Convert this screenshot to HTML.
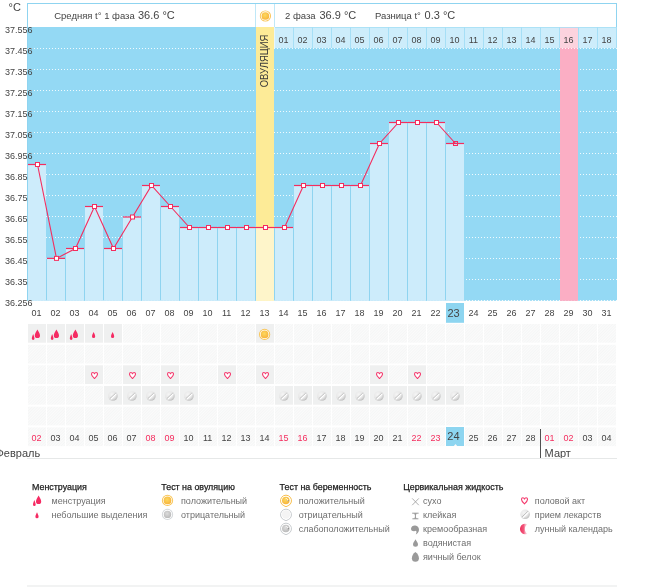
<!DOCTYPE html>
<html lang="ru"><head><meta charset="utf-8"><title>График базальной температуры</title>
<style>
html,body{margin:0;padding:0;background:#fff;}
body{width:655px;height:587px;overflow:hidden;font-family:"Liberation Sans", sans-serif;}
svg{display:block;}
text{font-family:"Liberation Sans", sans-serif;}
.ax{font-size:9px;fill:#444;}
.hd{font-size:9.5px;fill:#444;}
.hv{font-size:11px;fill:#444;}
.lg{font-size:9px;fill:#6e6e6e;}
.lh{font-size:8.9px;fill:#222;stroke:#222;stroke-width:0.25px;}
.red{fill:#f42d5e;}
</style></head><body>
<svg width="655" height="587" viewBox="0 0 655 587">
<defs>
<pattern id="hatch" width="2" height="2" patternUnits="userSpaceOnUse" patternTransform="rotate(45)"><rect width="2" height="2" fill="#fbfbfb"/><rect width="1" height="2" fill="#f5f6f6"/></pattern>
<radialGradient id="gOr" cx="0.45" cy="0.4" r="0.7"><stop offset="0" stop-color="#fcd85f"/><stop offset="1" stop-color="#f7ae35"/></radialGradient>
<radialGradient id="gGr" cx="0.45" cy="0.4" r="0.7"><stop offset="0" stop-color="#dcdcdc"/><stop offset="1" stop-color="#b4b4b4"/></radialGradient>
<radialGradient id="gPill" cx="0.38" cy="0.34" r="0.72"><stop offset="0" stop-color="#f5f5f5"/><stop offset="0.6" stop-color="#e6e6e6"/><stop offset="1" stop-color="#b9b9b9"/></radialGradient>
<linearGradient id="gMoon" x1="0" y1="0" x2="1" y2="0"><stop offset="0" stop-color="#ee2f5b"/><stop offset="0.5" stop-color="#f2577c"/><stop offset="1" stop-color="#f9b8c8" stop-opacity="0.3"/></linearGradient>
<g id="drop2"><path d="M0,-5 C1,-3 2.6,-1.2 2.6,1 A2.6,2.6 0 0 1 -2.6,1 C-2.6,-1.2 -1,-3 0,-5Z" fill="#f52b63"/><path d="M-4.25,-0.5 C-3.8,1 -2.9,2.4 -2.9,4.2 A1.35,1.4 0 0 1 -5.6,4.2 C-5.6,2.4 -4.7,1 -4.25,-0.5Z" fill="#f52b63"/></g>
<g id="drop1"><path d="M0,-3.2 C0.5,-1.8 1.6,-0.4 1.6,1.2 A1.6,1.6 0 0 1 -1.6,1.2 C-1.6,-0.4 -0.5,-1.8 0,-3.2Z" fill="#f52b63"/></g>
<g id="ovpos"><circle r="5.6" fill="#f9c453"/><circle r="4.65" fill="#fff"/><circle r="3.85" fill="url(#gOr)"/></g>
<g id="ovneg"><circle r="5.6" fill="#d3d7da"/><circle r="4.65" fill="#fff"/><circle r="3.7" fill="url(#gGr)"/></g>
<g id="heart"><path d="M0,3 C-1.4,1.7 -3,0.3 -3,-1.3 C-3,-2.4 -2.3,-3 -1.6,-3 C-0.8,-3 -0.3,-2.5 0,-1.7 C0.3,-2.5 0.8,-3 1.6,-3 C2.3,-3 3,-2.4 3,-1.3 C3,0.3 1.4,1.7 0,3Z" fill="#fff" stroke="#f4386c" stroke-width="1.1" stroke-linejoin="round"/></g>
<g id="pill"><circle r="4.8" fill="url(#gPill)"/><path d="M-2.6,2.3 L2.5,-2.5" stroke="#a2a2a2" stroke-width="0.75" stroke-linecap="round"/><path d="M-1.9,3 L3.1,-1.8" stroke="#fff" stroke-width="1.15" stroke-linecap="round"/></g>
</defs>

<rect width="655" height="587" fill="#fff"/>
<rect x="27.5" y="3.5" width="589" height="24" fill="#fff" stroke="#8fd4f0" stroke-width="1"/>
<rect x="27" y="27" width="590" height="273.8" fill="#94d9f4"/>
<rect x="256" y="27" width="18" height="273.8" fill="#fdeb97"/>
<rect x="255" y="4" width="1" height="23" fill="#bfe8f8"/><rect x="274" y="4" width="1" height="23" fill="#bfe8f8"/>
<rect x="560" y="27" width="18" height="273.8" fill="#fbaec4"/>
<rect x="274" y="27" width="343" height="21" fill="#a6dff6"/><rect x="274" y="27" width="1" height="21" fill="#e6f6fd"/>
<rect x="275" y="27.8" width="18" height="20.2" fill="#cdedfb"/>
<text class="ax" x="283.4" y="42.5" text-anchor="middle">01</text>
<rect x="294" y="27.8" width="18" height="20.2" fill="#cdedfb"/>
<text class="ax" x="302.4" y="42.5" text-anchor="middle">02</text>
<rect x="313" y="27.8" width="18" height="20.2" fill="#cdedfb"/>
<text class="ax" x="321.4" y="42.5" text-anchor="middle">03</text>
<rect x="332" y="27.8" width="18" height="20.2" fill="#cdedfb"/>
<text class="ax" x="340.4" y="42.5" text-anchor="middle">04</text>
<rect x="351" y="27.8" width="18" height="20.2" fill="#cdedfb"/>
<text class="ax" x="359.4" y="42.5" text-anchor="middle">05</text>
<rect x="370" y="27.8" width="18" height="20.2" fill="#cdedfb"/>
<text class="ax" x="378.4" y="42.5" text-anchor="middle">06</text>
<rect x="389" y="27.8" width="18" height="20.2" fill="#cdedfb"/>
<text class="ax" x="397.4" y="42.5" text-anchor="middle">07</text>
<rect x="408" y="27.8" width="18" height="20.2" fill="#cdedfb"/>
<text class="ax" x="416.4" y="42.5" text-anchor="middle">08</text>
<rect x="427" y="27.8" width="18" height="20.2" fill="#cdedfb"/>
<text class="ax" x="435.4" y="42.5" text-anchor="middle">09</text>
<rect x="446" y="27.8" width="18" height="20.2" fill="#cdedfb"/>
<text class="ax" x="454.4" y="42.5" text-anchor="middle">10</text>
<rect x="465" y="27.8" width="18" height="20.2" fill="#cdedfb"/>
<text class="ax" x="473.4" y="42.5" text-anchor="middle">11</text>
<rect x="484" y="27.8" width="18" height="20.2" fill="#cdedfb"/>
<text class="ax" x="492.4" y="42.5" text-anchor="middle">12</text>
<rect x="503" y="27.8" width="18" height="20.2" fill="#cdedfb"/>
<text class="ax" x="511.4" y="42.5" text-anchor="middle">13</text>
<rect x="522" y="27.8" width="18" height="20.2" fill="#cdedfb"/>
<text class="ax" x="530.4" y="42.5" text-anchor="middle">14</text>
<rect x="541" y="27.8" width="18" height="20.2" fill="#cdedfb"/>
<text class="ax" x="549.4" y="42.5" text-anchor="middle">15</text>
<rect x="560" y="27.8" width="18" height="20.2" fill="#fcd3de"/>
<text class="ax" x="568.4" y="42.5" text-anchor="middle">16</text>
<rect x="579" y="27.8" width="18" height="20.2" fill="#cdedfb"/>
<text class="ax" x="587.4" y="42.5" text-anchor="middle">17</text>
<rect x="598" y="27.8" width="18" height="20.2" fill="#cdedfb"/>
<text class="ax" x="606.4" y="42.5" text-anchor="middle">18</text>
<line x1="28" x2="617" y1="48.5" y2="48.5" stroke="#fff" stroke-opacity="0.85" stroke-width="1" stroke-dasharray="1 2"/>
<line x1="28" x2="617" y1="69.5" y2="69.5" stroke="#fff" stroke-opacity="0.85" stroke-width="1" stroke-dasharray="1 2"/>
<line x1="28" x2="617" y1="90.5" y2="90.5" stroke="#fff" stroke-opacity="0.85" stroke-width="1" stroke-dasharray="1 2"/>
<line x1="28" x2="617" y1="111.5" y2="111.5" stroke="#fff" stroke-opacity="0.85" stroke-width="1" stroke-dasharray="1 2"/>
<line x1="28" x2="617" y1="132.5" y2="132.5" stroke="#fff" stroke-opacity="0.85" stroke-width="1" stroke-dasharray="1 2"/>
<line x1="28" x2="617" y1="153.5" y2="153.5" stroke="#fff" stroke-opacity="0.85" stroke-width="1" stroke-dasharray="1 2"/>
<line x1="28" x2="617" y1="174.5" y2="174.5" stroke="#fff" stroke-opacity="0.85" stroke-width="1" stroke-dasharray="1 2"/>
<line x1="28" x2="617" y1="195.5" y2="195.5" stroke="#fff" stroke-opacity="0.85" stroke-width="1" stroke-dasharray="1 2"/>
<line x1="28" x2="617" y1="216.5" y2="216.5" stroke="#fff" stroke-opacity="0.85" stroke-width="1" stroke-dasharray="1 2"/>
<line x1="28" x2="617" y1="237.5" y2="237.5" stroke="#fff" stroke-opacity="0.85" stroke-width="1" stroke-dasharray="1 2"/>
<line x1="28" x2="617" y1="258.5" y2="258.5" stroke="#fff" stroke-opacity="0.85" stroke-width="1" stroke-dasharray="1 2"/>
<line x1="28" x2="617" y1="279.5" y2="279.5" stroke="#fff" stroke-opacity="0.85" stroke-width="1" stroke-dasharray="1 2"/>
<line x1="28" x2="617" y1="300.5" y2="300.5" stroke="#fff" stroke-opacity="0.85" stroke-width="1" stroke-dasharray="1 2"/>
<rect x="256" y="48" width="18" height="252.8" fill="#fdeb97"/>
<rect x="560" y="49" width="18" height="251.8" fill="#fbaec4"/>
<rect x="28" y="164.5" width="18" height="136.4" fill="#cdecfb"/>
<rect x="46" y="258.4" width="1" height="42.1" fill="#8fd4f0"/>
<rect x="47" y="258.4" width="18" height="42.5" fill="#cdecfb"/>
<rect x="65" y="258.4" width="1" height="42.1" fill="#8fd4f0"/>
<rect x="66" y="248.5" width="18" height="52.4" fill="#cdecfb"/>
<rect x="84" y="248.5" width="1" height="52.0" fill="#8fd4f0"/>
<rect x="85" y="206.5" width="18" height="94.4" fill="#cdecfb"/>
<rect x="103" y="248.5" width="1" height="52.0" fill="#8fd4f0"/>
<rect x="104" y="248.5" width="18" height="52.4" fill="#cdecfb"/>
<rect x="122" y="248.5" width="1" height="52.0" fill="#8fd4f0"/>
<rect x="123" y="217.0" width="18" height="83.9" fill="#cdecfb"/>
<rect x="141" y="217.0" width="1" height="83.5" fill="#8fd4f0"/>
<rect x="142" y="185.5" width="18" height="115.4" fill="#cdecfb"/>
<rect x="160" y="206.5" width="1" height="94.0" fill="#8fd4f0"/>
<rect x="161" y="206.5" width="18" height="94.4" fill="#cdecfb"/>
<rect x="179" y="227.5" width="1" height="73.0" fill="#8fd4f0"/>
<rect x="180" y="227.5" width="18" height="73.4" fill="#cdecfb"/>
<rect x="198" y="227.5" width="1" height="73.0" fill="#8fd4f0"/>
<rect x="199" y="227.5" width="18" height="73.4" fill="#cdecfb"/>
<rect x="217" y="227.5" width="1" height="73.0" fill="#8fd4f0"/>
<rect x="218" y="227.5" width="18" height="73.4" fill="#cdecfb"/>
<rect x="236" y="227.5" width="1" height="73.0" fill="#8fd4f0"/>
<rect x="237" y="227.5" width="18" height="73.4" fill="#cdecfb"/>
<rect x="255" y="227.5" width="1" height="73.0" fill="#8fd4f0"/>
<rect x="256" y="227.5" width="18" height="73.4" fill="#fef5ca"/>
<rect x="274" y="227.5" width="1" height="73.0" fill="#8fd4f0"/>
<rect x="275" y="227.5" width="18" height="73.4" fill="#cdecfb"/>
<rect x="293" y="227.5" width="1" height="73.0" fill="#8fd4f0"/>
<rect x="294" y="185.5" width="18" height="115.4" fill="#cdecfb"/>
<rect x="312" y="185.5" width="1" height="115.0" fill="#8fd4f0"/>
<rect x="313" y="185.5" width="18" height="115.4" fill="#cdecfb"/>
<rect x="331" y="185.5" width="1" height="115.0" fill="#8fd4f0"/>
<rect x="332" y="185.5" width="18" height="115.4" fill="#cdecfb"/>
<rect x="350" y="185.5" width="1" height="115.0" fill="#8fd4f0"/>
<rect x="351" y="185.5" width="18" height="115.4" fill="#cdecfb"/>
<rect x="369" y="185.5" width="1" height="115.0" fill="#8fd4f0"/>
<rect x="370" y="143.5" width="18" height="157.4" fill="#cdecfb"/>
<rect x="388" y="143.5" width="1" height="157.0" fill="#8fd4f0"/>
<rect x="389" y="122.5" width="18" height="178.4" fill="#cdecfb"/>
<rect x="407" y="122.5" width="1" height="178.0" fill="#8fd4f0"/>
<rect x="408" y="122.5" width="18" height="178.4" fill="#cdecfb"/>
<rect x="426" y="122.5" width="1" height="178.0" fill="#8fd4f0"/>
<rect x="427" y="122.5" width="18" height="178.4" fill="#cdecfb"/>
<rect x="445" y="143.5" width="1" height="157.0" fill="#8fd4f0"/>
<rect x="446" y="143.5" width="18" height="157.4" fill="#cdecfb"/>
<line x1="28" x2="46" y1="164.5" y2="164.5" stroke="#f42d5e" stroke-width="1.2"/>
<line x1="47" x2="65" y1="258.3699999999991" y2="258.3699999999991" stroke="#f42d5e" stroke-width="1.2"/>
<line x1="66" x2="84" y1="248.49999999999972" y2="248.49999999999972" stroke="#f42d5e" stroke-width="1.2"/>
<line x1="85" x2="103" y1="206.4999999999991" y2="206.4999999999991" stroke="#f42d5e" stroke-width="1.2"/>
<line x1="104" x2="122" y1="248.49999999999972" y2="248.49999999999972" stroke="#f42d5e" stroke-width="1.2"/>
<line x1="123" x2="141" y1="217.0" y2="217.0" stroke="#f42d5e" stroke-width="1.2"/>
<line x1="142" x2="160" y1="185.50000000000028" y2="185.50000000000028" stroke="#f42d5e" stroke-width="1.2"/>
<line x1="161" x2="179" y1="206.4999999999991" y2="206.4999999999991" stroke="#f42d5e" stroke-width="1.2"/>
<line x1="180" x2="198" y1="227.4999999999994" y2="227.4999999999994" stroke="#f42d5e" stroke-width="1.2"/>
<line x1="199" x2="217" y1="227.4999999999994" y2="227.4999999999994" stroke="#f42d5e" stroke-width="1.2"/>
<line x1="218" x2="236" y1="227.4999999999994" y2="227.4999999999994" stroke="#f42d5e" stroke-width="1.2"/>
<line x1="237" x2="255" y1="227.4999999999994" y2="227.4999999999994" stroke="#f42d5e" stroke-width="1.2"/>
<line x1="256" x2="274" y1="227.4999999999994" y2="227.4999999999994" stroke="#f42d5e" stroke-width="1.2"/>
<line x1="275" x2="293" y1="227.4999999999994" y2="227.4999999999994" stroke="#f42d5e" stroke-width="1.2"/>
<line x1="294" x2="312" y1="185.50000000000028" y2="185.50000000000028" stroke="#f42d5e" stroke-width="1.2"/>
<line x1="313" x2="331" y1="185.50000000000028" y2="185.50000000000028" stroke="#f42d5e" stroke-width="1.2"/>
<line x1="332" x2="350" y1="185.50000000000028" y2="185.50000000000028" stroke="#f42d5e" stroke-width="1.2"/>
<line x1="351" x2="369" y1="185.50000000000028" y2="185.50000000000028" stroke="#f42d5e" stroke-width="1.2"/>
<line x1="370" x2="388" y1="143.49999999999972" y2="143.49999999999972" stroke="#f42d5e" stroke-width="1.2"/>
<line x1="389" x2="407" y1="122.4999999999994" y2="122.4999999999994" stroke="#f42d5e" stroke-width="1.2"/>
<line x1="408" x2="426" y1="122.4999999999994" y2="122.4999999999994" stroke="#f42d5e" stroke-width="1.2"/>
<line x1="427" x2="445" y1="122.4999999999994" y2="122.4999999999994" stroke="#f42d5e" stroke-width="1.2"/>
<line x1="446" x2="464" y1="143.49999999999972" y2="143.49999999999972" stroke="#f42d5e" stroke-width="1.2"/>
<polyline fill="none" stroke="#f42d5e" stroke-width="1.1" points="37.5,164.5 56.5,258.4 75.5,248.5 94.5,206.5 113.5,248.5 132.5,217.0 151.5,185.5 170.5,206.5 189.5,227.5 208.5,227.5 227.5,227.5 246.5,227.5 265.5,227.5 284.5,227.5 303.5,185.5 322.5,185.5 341.5,185.5 360.5,185.5 379.5,143.5 398.5,122.5 417.5,122.5 436.5,122.5 455.5,143.5"/>
<rect x="35.5" y="162.5" width="4" height="4" fill="#fff" stroke="#f42d5e" stroke-width="1"/>
<rect x="54.5" y="256.3699999999991" width="4" height="4" fill="#fff" stroke="#f42d5e" stroke-width="1"/>
<rect x="73.5" y="246.49999999999972" width="4" height="4" fill="#fff" stroke="#f42d5e" stroke-width="1"/>
<rect x="92.5" y="204.4999999999991" width="4" height="4" fill="#fff" stroke="#f42d5e" stroke-width="1"/>
<rect x="111.5" y="246.49999999999972" width="4" height="4" fill="#fff" stroke="#f42d5e" stroke-width="1"/>
<rect x="130.5" y="215.0" width="4" height="4" fill="#fff" stroke="#f42d5e" stroke-width="1"/>
<rect x="149.5" y="183.50000000000028" width="4" height="4" fill="#fff" stroke="#f42d5e" stroke-width="1"/>
<rect x="168.5" y="204.4999999999991" width="4" height="4" fill="#fff" stroke="#f42d5e" stroke-width="1"/>
<rect x="187.5" y="225.4999999999994" width="4" height="4" fill="#fff" stroke="#f42d5e" stroke-width="1"/>
<rect x="206.5" y="225.4999999999994" width="4" height="4" fill="#fff" stroke="#f42d5e" stroke-width="1"/>
<rect x="225.5" y="225.4999999999994" width="4" height="4" fill="#fff" stroke="#f42d5e" stroke-width="1"/>
<rect x="244.5" y="225.4999999999994" width="4" height="4" fill="#fff" stroke="#f42d5e" stroke-width="1"/>
<rect x="263.5" y="225.4999999999994" width="4" height="4" fill="#fff" stroke="#f42d5e" stroke-width="1"/>
<rect x="282.5" y="225.4999999999994" width="4" height="4" fill="#fff" stroke="#f42d5e" stroke-width="1"/>
<rect x="301.5" y="183.50000000000028" width="4" height="4" fill="#fff" stroke="#f42d5e" stroke-width="1"/>
<rect x="320.5" y="183.50000000000028" width="4" height="4" fill="#fff" stroke="#f42d5e" stroke-width="1"/>
<rect x="339.5" y="183.50000000000028" width="4" height="4" fill="#fff" stroke="#f42d5e" stroke-width="1"/>
<rect x="358.5" y="183.50000000000028" width="4" height="4" fill="#fff" stroke="#f42d5e" stroke-width="1"/>
<rect x="377.5" y="141.49999999999972" width="4" height="4" fill="#fff" stroke="#f42d5e" stroke-width="1"/>
<rect x="396.5" y="120.4999999999994" width="4" height="4" fill="#fff" stroke="#f42d5e" stroke-width="1"/>
<rect x="415.5" y="120.4999999999994" width="4" height="4" fill="#fff" stroke="#f42d5e" stroke-width="1"/>
<rect x="434.5" y="120.4999999999994" width="4" height="4" fill="#fff" stroke="#f42d5e" stroke-width="1"/>
<rect x="453.5" y="141.49999999999972" width="4" height="4" fill="none" stroke="#f42d5e" stroke-width="1"/>
<rect x="27" y="27" width="1" height="273.8" fill="#8fd4f0"/>
<text class="hv" x="8.6" y="10.8" style="font-size:11px">°C</text>
<text class="ax" x="5" y="33.0">37.556</text>
<text class="ax" x="5" y="54.0">37.456</text>
<text class="ax" x="5" y="75.0">37.356</text>
<text class="ax" x="5" y="96.0">37.256</text>
<text class="ax" x="5" y="117.0">37.156</text>
<text class="ax" x="5" y="138.0">37.056</text>
<text class="ax" x="5" y="159.0">36.956</text>
<text class="ax" x="5" y="180.0">36.85</text>
<text class="ax" x="5" y="201.0">36.75</text>
<text class="ax" x="5" y="222.0">36.65</text>
<text class="ax" x="5" y="243.0">36.55</text>
<text class="ax" x="5" y="264.0">36.45</text>
<text class="ax" x="5" y="285.0">36.35</text>
<text class="ax" x="5" y="306.0">36.256</text>
<text class="hd" x="54.2" y="19">Средняя t° 1 фаза</text><text class="hv" x="138" y="19.2">36.6 °C</text>
<use href="#ovpos" x="265.4" y="16"/>
<text class="hd" x="285" y="19">2 фаза</text><text class="hv" x="319.5" y="19.2">36.9 °C</text>
<text class="hd" x="375" y="19">Разница t°</text><text class="hv" x="424.6" y="19.2">0.3 °C</text>
<text transform="translate(268.3,87.2) rotate(-90)" style="font-size:10.6px;fill:#3a3a3a" textLength="52.4" lengthAdjust="spacingAndGlyphs">ОВУЛЯЦИЯ</text>
<rect x="446" y="303" width="18" height="19.8" fill="#8dd5f0"/>
<text class="ax" x="36.6" y="315.6" text-anchor="middle">01</text>
<text class="ax" x="55.6" y="315.6" text-anchor="middle">02</text>
<text class="ax" x="74.6" y="315.6" text-anchor="middle">03</text>
<text class="ax" x="93.6" y="315.6" text-anchor="middle">04</text>
<text class="ax" x="112.6" y="315.6" text-anchor="middle">05</text>
<text class="ax" x="131.6" y="315.6" text-anchor="middle">06</text>
<text class="ax" x="150.6" y="315.6" text-anchor="middle">07</text>
<text class="ax" x="169.6" y="315.6" text-anchor="middle">08</text>
<text class="ax" x="188.6" y="315.6" text-anchor="middle">09</text>
<text class="ax" x="207.6" y="315.6" text-anchor="middle">10</text>
<text class="ax" x="226.6" y="315.6" text-anchor="middle">11</text>
<text class="ax" x="245.6" y="315.6" text-anchor="middle">12</text>
<text class="ax" x="264.6" y="315.6" text-anchor="middle">13</text>
<text class="ax" x="283.6" y="315.6" text-anchor="middle">14</text>
<text class="ax" x="302.6" y="315.6" text-anchor="middle">15</text>
<text class="ax" x="321.6" y="315.6" text-anchor="middle">16</text>
<text class="ax" x="340.6" y="315.6" text-anchor="middle">17</text>
<text class="ax" x="359.6" y="315.6" text-anchor="middle">18</text>
<text class="ax" x="378.6" y="315.6" text-anchor="middle">19</text>
<text class="ax" x="397.6" y="315.6" text-anchor="middle">20</text>
<text class="ax" x="416.6" y="315.6" text-anchor="middle">21</text>
<text class="ax" x="435.6" y="315.6" text-anchor="middle">22</text>
<text x="453.6" y="316.9" text-anchor="middle" style="font-size:11px;fill:#444">23</text>
<text class="ax" x="473.6" y="315.6" text-anchor="middle">24</text>
<text class="ax" x="492.6" y="315.6" text-anchor="middle">25</text>
<text class="ax" x="511.6" y="315.6" text-anchor="middle">26</text>
<text class="ax" x="530.6" y="315.6" text-anchor="middle">27</text>
<text class="ax" x="549.6" y="315.6" text-anchor="middle">28</text>
<text class="ax" x="568.6" y="315.6" text-anchor="middle">29</text>
<text class="ax" x="587.6" y="315.6" text-anchor="middle">30</text>
<text class="ax" x="606.6" y="315.6" text-anchor="middle">31</text>
<rect x="28" y="324" width="18" height="18.7" fill="#eff0f0"/>
<use href="#drop2" x="37.4" y="334.4"/>
<rect x="47" y="324" width="18" height="18.7" fill="#eff0f0"/>
<use href="#drop2" x="56.4" y="334.4"/>
<rect x="66" y="324" width="18" height="18.7" fill="#eff0f0"/>
<use href="#drop2" x="75.4" y="334.4"/>
<rect x="85" y="324" width="18" height="18.7" fill="#eff0f0"/>
<use href="#drop1" x="93.6" y="335.2"/>
<rect x="104" y="324" width="18" height="18.7" fill="#eff0f0"/>
<use href="#drop1" x="112.6" y="335.2"/>
<rect x="123" y="324" width="18" height="18.7" fill="url(#hatch)"/>
<rect x="142" y="324" width="18" height="18.7" fill="url(#hatch)"/>
<rect x="161" y="324" width="18" height="18.7" fill="url(#hatch)"/>
<rect x="180" y="324" width="18" height="18.7" fill="url(#hatch)"/>
<rect x="199" y="324" width="18" height="18.7" fill="url(#hatch)"/>
<rect x="218" y="324" width="18" height="18.7" fill="url(#hatch)"/>
<rect x="237" y="324" width="18" height="18.7" fill="url(#hatch)"/>
<rect x="256" y="324" width="18" height="18.7" fill="#eff0f0"/>
<use href="#ovpos" x="264.6" y="334.4"/>
<rect x="275" y="324" width="18" height="18.7" fill="url(#hatch)"/>
<rect x="294" y="324" width="18" height="18.7" fill="url(#hatch)"/>
<rect x="313" y="324" width="18" height="18.7" fill="url(#hatch)"/>
<rect x="332" y="324" width="18" height="18.7" fill="url(#hatch)"/>
<rect x="351" y="324" width="18" height="18.7" fill="url(#hatch)"/>
<rect x="370" y="324" width="18" height="18.7" fill="url(#hatch)"/>
<rect x="389" y="324" width="18" height="18.7" fill="url(#hatch)"/>
<rect x="408" y="324" width="18" height="18.7" fill="url(#hatch)"/>
<rect x="427" y="324" width="18" height="18.7" fill="url(#hatch)"/>
<rect x="446" y="324" width="18" height="18.7" fill="url(#hatch)"/>
<rect x="465" y="324" width="18" height="18.7" fill="url(#hatch)"/>
<rect x="484" y="324" width="18" height="18.7" fill="url(#hatch)"/>
<rect x="503" y="324" width="18" height="18.7" fill="url(#hatch)"/>
<rect x="522" y="324" width="18" height="18.7" fill="url(#hatch)"/>
<rect x="541" y="324" width="18" height="18.7" fill="url(#hatch)"/>
<rect x="560" y="324" width="18" height="18.7" fill="url(#hatch)"/>
<rect x="579" y="324" width="18" height="18.7" fill="url(#hatch)"/>
<rect x="598" y="324" width="18" height="18.7" fill="url(#hatch)"/>
<rect x="28" y="344.8" width="18" height="18.7" fill="url(#hatch)"/>
<rect x="47" y="344.8" width="18" height="18.7" fill="url(#hatch)"/>
<rect x="66" y="344.8" width="18" height="18.7" fill="url(#hatch)"/>
<rect x="85" y="344.8" width="18" height="18.7" fill="url(#hatch)"/>
<rect x="104" y="344.8" width="18" height="18.7" fill="url(#hatch)"/>
<rect x="123" y="344.8" width="18" height="18.7" fill="url(#hatch)"/>
<rect x="142" y="344.8" width="18" height="18.7" fill="url(#hatch)"/>
<rect x="161" y="344.8" width="18" height="18.7" fill="url(#hatch)"/>
<rect x="180" y="344.8" width="18" height="18.7" fill="url(#hatch)"/>
<rect x="199" y="344.8" width="18" height="18.7" fill="url(#hatch)"/>
<rect x="218" y="344.8" width="18" height="18.7" fill="url(#hatch)"/>
<rect x="237" y="344.8" width="18" height="18.7" fill="url(#hatch)"/>
<rect x="256" y="344.8" width="18" height="18.7" fill="url(#hatch)"/>
<rect x="275" y="344.8" width="18" height="18.7" fill="url(#hatch)"/>
<rect x="294" y="344.8" width="18" height="18.7" fill="url(#hatch)"/>
<rect x="313" y="344.8" width="18" height="18.7" fill="url(#hatch)"/>
<rect x="332" y="344.8" width="18" height="18.7" fill="url(#hatch)"/>
<rect x="351" y="344.8" width="18" height="18.7" fill="url(#hatch)"/>
<rect x="370" y="344.8" width="18" height="18.7" fill="url(#hatch)"/>
<rect x="389" y="344.8" width="18" height="18.7" fill="url(#hatch)"/>
<rect x="408" y="344.8" width="18" height="18.7" fill="url(#hatch)"/>
<rect x="427" y="344.8" width="18" height="18.7" fill="url(#hatch)"/>
<rect x="446" y="344.8" width="18" height="18.7" fill="url(#hatch)"/>
<rect x="465" y="344.8" width="18" height="18.7" fill="url(#hatch)"/>
<rect x="484" y="344.8" width="18" height="18.7" fill="url(#hatch)"/>
<rect x="503" y="344.8" width="18" height="18.7" fill="url(#hatch)"/>
<rect x="522" y="344.8" width="18" height="18.7" fill="url(#hatch)"/>
<rect x="541" y="344.8" width="18" height="18.7" fill="url(#hatch)"/>
<rect x="560" y="344.8" width="18" height="18.7" fill="url(#hatch)"/>
<rect x="579" y="344.8" width="18" height="18.7" fill="url(#hatch)"/>
<rect x="598" y="344.8" width="18" height="18.7" fill="url(#hatch)"/>
<rect x="28" y="365.3" width="18" height="18.7" fill="url(#hatch)"/>
<rect x="47" y="365.3" width="18" height="18.7" fill="url(#hatch)"/>
<rect x="66" y="365.3" width="18" height="18.7" fill="url(#hatch)"/>
<rect x="85" y="365.3" width="18" height="18.7" fill="#eff0f0"/>
<use href="#heart" x="94.5" y="375.5"/>
<rect x="104" y="365.3" width="18" height="18.7" fill="url(#hatch)"/>
<rect x="123" y="365.3" width="18" height="18.7" fill="#eff0f0"/>
<use href="#heart" x="132.5" y="375.5"/>
<rect x="142" y="365.3" width="18" height="18.7" fill="url(#hatch)"/>
<rect x="161" y="365.3" width="18" height="18.7" fill="#eff0f0"/>
<use href="#heart" x="170.5" y="375.5"/>
<rect x="180" y="365.3" width="18" height="18.7" fill="url(#hatch)"/>
<rect x="199" y="365.3" width="18" height="18.7" fill="url(#hatch)"/>
<rect x="218" y="365.3" width="18" height="18.7" fill="#eff0f0"/>
<use href="#heart" x="227.5" y="375.5"/>
<rect x="237" y="365.3" width="18" height="18.7" fill="url(#hatch)"/>
<rect x="256" y="365.3" width="18" height="18.7" fill="#eff0f0"/>
<use href="#heart" x="265.5" y="375.5"/>
<rect x="275" y="365.3" width="18" height="18.7" fill="url(#hatch)"/>
<rect x="294" y="365.3" width="18" height="18.7" fill="url(#hatch)"/>
<rect x="313" y="365.3" width="18" height="18.7" fill="url(#hatch)"/>
<rect x="332" y="365.3" width="18" height="18.7" fill="url(#hatch)"/>
<rect x="351" y="365.3" width="18" height="18.7" fill="url(#hatch)"/>
<rect x="370" y="365.3" width="18" height="18.7" fill="#eff0f0"/>
<use href="#heart" x="379.5" y="375.5"/>
<rect x="389" y="365.3" width="18" height="18.7" fill="url(#hatch)"/>
<rect x="408" y="365.3" width="18" height="18.7" fill="#eff0f0"/>
<use href="#heart" x="417.5" y="375.5"/>
<rect x="427" y="365.3" width="18" height="18.7" fill="url(#hatch)"/>
<rect x="446" y="365.3" width="18" height="18.7" fill="url(#hatch)"/>
<rect x="465" y="365.3" width="18" height="18.7" fill="url(#hatch)"/>
<rect x="484" y="365.3" width="18" height="18.7" fill="url(#hatch)"/>
<rect x="503" y="365.3" width="18" height="18.7" fill="url(#hatch)"/>
<rect x="522" y="365.3" width="18" height="18.7" fill="url(#hatch)"/>
<rect x="541" y="365.3" width="18" height="18.7" fill="url(#hatch)"/>
<rect x="560" y="365.3" width="18" height="18.7" fill="url(#hatch)"/>
<rect x="579" y="365.3" width="18" height="18.7" fill="url(#hatch)"/>
<rect x="598" y="365.3" width="18" height="18.7" fill="url(#hatch)"/>
<rect x="28" y="386" width="18" height="18.7" fill="url(#hatch)"/>
<rect x="47" y="386" width="18" height="18.7" fill="url(#hatch)"/>
<rect x="66" y="386" width="18" height="18.7" fill="url(#hatch)"/>
<rect x="85" y="386" width="18" height="18.7" fill="url(#hatch)"/>
<rect x="104" y="386" width="18" height="18.7" fill="#eff0f0"/>
<use href="#pill" x="112.9" y="396"/>
<rect x="123" y="386" width="18" height="18.7" fill="#eff0f0"/>
<use href="#pill" x="131.9" y="396"/>
<rect x="142" y="386" width="18" height="18.7" fill="#eff0f0"/>
<use href="#pill" x="150.9" y="396"/>
<rect x="161" y="386" width="18" height="18.7" fill="#eff0f0"/>
<use href="#pill" x="169.9" y="396"/>
<rect x="180" y="386" width="18" height="18.7" fill="#eff0f0"/>
<use href="#pill" x="188.9" y="396"/>
<rect x="199" y="386" width="18" height="18.7" fill="url(#hatch)"/>
<rect x="218" y="386" width="18" height="18.7" fill="url(#hatch)"/>
<rect x="237" y="386" width="18" height="18.7" fill="url(#hatch)"/>
<rect x="256" y="386" width="18" height="18.7" fill="url(#hatch)"/>
<rect x="275" y="386" width="18" height="18.7" fill="#eff0f0"/>
<use href="#pill" x="283.9" y="396"/>
<rect x="294" y="386" width="18" height="18.7" fill="#eff0f0"/>
<use href="#pill" x="302.9" y="396"/>
<rect x="313" y="386" width="18" height="18.7" fill="#eff0f0"/>
<use href="#pill" x="321.9" y="396"/>
<rect x="332" y="386" width="18" height="18.7" fill="#eff0f0"/>
<use href="#pill" x="340.9" y="396"/>
<rect x="351" y="386" width="18" height="18.7" fill="#eff0f0"/>
<use href="#pill" x="359.9" y="396"/>
<rect x="370" y="386" width="18" height="18.7" fill="#eff0f0"/>
<use href="#pill" x="378.9" y="396"/>
<rect x="389" y="386" width="18" height="18.7" fill="#eff0f0"/>
<use href="#pill" x="397.9" y="396"/>
<rect x="408" y="386" width="18" height="18.7" fill="#eff0f0"/>
<use href="#pill" x="416.9" y="396"/>
<rect x="427" y="386" width="18" height="18.7" fill="#eff0f0"/>
<use href="#pill" x="435.9" y="396"/>
<rect x="446" y="386" width="18" height="18.7" fill="#eff0f0"/>
<use href="#pill" x="454.9" y="396"/>
<rect x="465" y="386" width="18" height="18.7" fill="url(#hatch)"/>
<rect x="484" y="386" width="18" height="18.7" fill="url(#hatch)"/>
<rect x="503" y="386" width="18" height="18.7" fill="url(#hatch)"/>
<rect x="522" y="386" width="18" height="18.7" fill="url(#hatch)"/>
<rect x="541" y="386" width="18" height="18.7" fill="url(#hatch)"/>
<rect x="560" y="386" width="18" height="18.7" fill="url(#hatch)"/>
<rect x="579" y="386" width="18" height="18.7" fill="url(#hatch)"/>
<rect x="598" y="386" width="18" height="18.7" fill="url(#hatch)"/>
<rect x="28" y="406.7" width="18" height="18.7" fill="url(#hatch)"/>
<rect x="47" y="406.7" width="18" height="18.7" fill="url(#hatch)"/>
<rect x="66" y="406.7" width="18" height="18.7" fill="url(#hatch)"/>
<rect x="85" y="406.7" width="18" height="18.7" fill="url(#hatch)"/>
<rect x="104" y="406.7" width="18" height="18.7" fill="url(#hatch)"/>
<rect x="123" y="406.7" width="18" height="18.7" fill="url(#hatch)"/>
<rect x="142" y="406.7" width="18" height="18.7" fill="url(#hatch)"/>
<rect x="161" y="406.7" width="18" height="18.7" fill="url(#hatch)"/>
<rect x="180" y="406.7" width="18" height="18.7" fill="url(#hatch)"/>
<rect x="199" y="406.7" width="18" height="18.7" fill="url(#hatch)"/>
<rect x="218" y="406.7" width="18" height="18.7" fill="url(#hatch)"/>
<rect x="237" y="406.7" width="18" height="18.7" fill="url(#hatch)"/>
<rect x="256" y="406.7" width="18" height="18.7" fill="url(#hatch)"/>
<rect x="275" y="406.7" width="18" height="18.7" fill="url(#hatch)"/>
<rect x="294" y="406.7" width="18" height="18.7" fill="url(#hatch)"/>
<rect x="313" y="406.7" width="18" height="18.7" fill="url(#hatch)"/>
<rect x="332" y="406.7" width="18" height="18.7" fill="url(#hatch)"/>
<rect x="351" y="406.7" width="18" height="18.7" fill="url(#hatch)"/>
<rect x="370" y="406.7" width="18" height="18.7" fill="url(#hatch)"/>
<rect x="389" y="406.7" width="18" height="18.7" fill="url(#hatch)"/>
<rect x="408" y="406.7" width="18" height="18.7" fill="url(#hatch)"/>
<rect x="427" y="406.7" width="18" height="18.7" fill="url(#hatch)"/>
<rect x="446" y="406.7" width="18" height="18.7" fill="url(#hatch)"/>
<rect x="465" y="406.7" width="18" height="18.7" fill="url(#hatch)"/>
<rect x="484" y="406.7" width="18" height="18.7" fill="url(#hatch)"/>
<rect x="503" y="406.7" width="18" height="18.7" fill="url(#hatch)"/>
<rect x="522" y="406.7" width="18" height="18.7" fill="url(#hatch)"/>
<rect x="541" y="406.7" width="18" height="18.7" fill="url(#hatch)"/>
<rect x="560" y="406.7" width="18" height="18.7" fill="url(#hatch)"/>
<rect x="579" y="406.7" width="18" height="18.7" fill="url(#hatch)"/>
<rect x="598" y="406.7" width="18" height="18.7" fill="url(#hatch)"/>
<rect x="28" y="427.4" width="18" height="18.7" fill="url(#hatch)"/>
<rect x="47" y="427.4" width="18" height="18.7" fill="url(#hatch)"/>
<rect x="66" y="427.4" width="18" height="18.7" fill="url(#hatch)"/>
<rect x="85" y="427.4" width="18" height="18.7" fill="url(#hatch)"/>
<rect x="104" y="427.4" width="18" height="18.7" fill="url(#hatch)"/>
<rect x="123" y="427.4" width="18" height="18.7" fill="url(#hatch)"/>
<rect x="142" y="427.4" width="18" height="18.7" fill="url(#hatch)"/>
<rect x="161" y="427.4" width="18" height="18.7" fill="url(#hatch)"/>
<rect x="180" y="427.4" width="18" height="18.7" fill="url(#hatch)"/>
<rect x="199" y="427.4" width="18" height="18.7" fill="url(#hatch)"/>
<rect x="218" y="427.4" width="18" height="18.7" fill="url(#hatch)"/>
<rect x="237" y="427.4" width="18" height="18.7" fill="url(#hatch)"/>
<rect x="256" y="427.4" width="18" height="18.7" fill="url(#hatch)"/>
<rect x="275" y="427.4" width="18" height="18.7" fill="url(#hatch)"/>
<rect x="294" y="427.4" width="18" height="18.7" fill="url(#hatch)"/>
<rect x="313" y="427.4" width="18" height="18.7" fill="url(#hatch)"/>
<rect x="332" y="427.4" width="18" height="18.7" fill="url(#hatch)"/>
<rect x="351" y="427.4" width="18" height="18.7" fill="url(#hatch)"/>
<rect x="370" y="427.4" width="18" height="18.7" fill="url(#hatch)"/>
<rect x="389" y="427.4" width="18" height="18.7" fill="url(#hatch)"/>
<rect x="408" y="427.4" width="18" height="18.7" fill="url(#hatch)"/>
<rect x="427" y="427.4" width="18" height="18.7" fill="url(#hatch)"/>
<rect x="446" y="427.4" width="18" height="18.7" fill="url(#hatch)"/>
<rect x="465" y="427.4" width="18" height="18.7" fill="url(#hatch)"/>
<rect x="484" y="427.4" width="18" height="18.7" fill="url(#hatch)"/>
<rect x="503" y="427.4" width="18" height="18.7" fill="url(#hatch)"/>
<rect x="522" y="427.4" width="18" height="18.7" fill="url(#hatch)"/>
<rect x="541" y="427.4" width="18" height="18.7" fill="url(#hatch)"/>
<rect x="560" y="427.4" width="18" height="18.7" fill="url(#hatch)"/>
<rect x="579" y="427.4" width="18" height="18.7" fill="url(#hatch)"/>
<rect x="598" y="427.4" width="18" height="18.7" fill="url(#hatch)"/>
<path d="M446,427 H464 V446 H457.2 L455.5,444 L453.8,446 H446Z" fill="#8dd5f0"/>
<text class="ax red" x="36.6" y="440.8" text-anchor="middle">02</text>
<text class="ax" x="55.6" y="440.8" text-anchor="middle">03</text>
<text class="ax" x="74.6" y="440.8" text-anchor="middle">04</text>
<text class="ax" x="93.6" y="440.8" text-anchor="middle">05</text>
<text class="ax" x="112.6" y="440.8" text-anchor="middle">06</text>
<text class="ax" x="131.6" y="440.8" text-anchor="middle">07</text>
<text class="ax red" x="150.6" y="440.8" text-anchor="middle">08</text>
<text class="ax red" x="169.6" y="440.8" text-anchor="middle">09</text>
<text class="ax" x="188.6" y="440.8" text-anchor="middle">10</text>
<text class="ax" x="207.6" y="440.8" text-anchor="middle">11</text>
<text class="ax" x="226.6" y="440.8" text-anchor="middle">12</text>
<text class="ax" x="245.6" y="440.8" text-anchor="middle">13</text>
<text class="ax" x="264.6" y="440.8" text-anchor="middle">14</text>
<text class="ax red" x="283.6" y="440.8" text-anchor="middle">15</text>
<text class="ax red" x="302.6" y="440.8" text-anchor="middle">16</text>
<text class="ax" x="321.6" y="440.8" text-anchor="middle">17</text>
<text class="ax" x="340.6" y="440.8" text-anchor="middle">18</text>
<text class="ax" x="359.6" y="440.8" text-anchor="middle">19</text>
<text class="ax" x="378.6" y="440.8" text-anchor="middle">20</text>
<text class="ax" x="397.6" y="440.8" text-anchor="middle">21</text>
<text class="ax red" x="416.6" y="440.8" text-anchor="middle">22</text>
<text class="ax red" x="435.6" y="440.8" text-anchor="middle">23</text>
<text x="453.4" y="440.1" text-anchor="middle" style="font-size:11px;fill:#444">24</text>
<text class="ax" x="473.6" y="440.8" text-anchor="middle">25</text>
<text class="ax" x="492.6" y="440.8" text-anchor="middle">26</text>
<text class="ax" x="511.6" y="440.8" text-anchor="middle">27</text>
<text class="ax" x="530.6" y="440.8" text-anchor="middle">28</text>
<text class="ax red" x="549.6" y="440.8" text-anchor="middle">01</text>
<text class="ax red" x="568.6" y="440.8" text-anchor="middle">02</text>
<text class="ax" x="587.6" y="440.8" text-anchor="middle">03</text>
<text class="ax" x="606.6" y="440.8" text-anchor="middle">04</text>
<rect x="540" y="429" width="1" height="29" fill="#505050"/>
<text x="-4.5" y="456.5" style="font-size:11px;fill:#444">Февраль</text>
<text x="544.6" y="456.6" style="font-size:11px;fill:#444">Март</text>
<rect x="27" y="458" width="590" height="1" fill="#e6e8e8"/>
<rect x="27" y="585.5" width="590" height="1" fill="#e6e8e8"/>
<text class="lh" x="32" y="489.7">Менструация</text>
<text class="lg" x="51.5" y="504.0">менструация</text>
<text class="lg" x="51.5" y="518.0">небольшие выделения</text>
<use href="#drop2" x="38.6" y="500.5"/><use href="#drop1" x="37" y="515.5"/>
<text class="lh" x="161.3" y="489.7">Тест на овуляцию</text>
<text class="lg" x="181" y="504.0">положительный</text>
<text class="lg" x="181" y="518.0">отрицательный</text>
<use href="#ovpos" x="167.5" y="500.4"/><use href="#ovneg" x="167.5" y="514.4"/>
<text class="lh" x="279.6" y="489.7">Тест на беременность</text>
<text class="lg" x="298.7" y="504.0">положительный</text>
<text class="lg" x="298.7" y="518.0">отрицательный</text>
<text class="lg" x="298.7" y="531.6">слабоположительный</text>
<path d="M283.8,505.7 A5.5,5.5 0 1 1 288.2,505.7 L286,506.7 Z" fill="#fff" stroke="#f8c050" stroke-width="1"/>
<circle cx="285.8" cy="500.5" r="3.8" fill="url(#gOr)"/><path d="M285.7,498.5 a1.7,1.7 0 0 1 1.9,2.2" stroke="#fff" stroke-width="0.9" fill="none"/><circle cx="288.2" cy="500.7" r="0.6" fill="#8a8a8a"/>
<path d="M283.8,519.7 A5.5,5.5 0 1 1 288.2,519.7 L286,520.7 Z" fill="#fff" stroke="#c9cdd0" stroke-width="1"/>
<circle cx="286" cy="514.5" r="4.2" fill="#f4f4f4"/>
<path d="M283.8,533.7 A5.5,5.5 0 1 1 288.2,533.7 L286,534.7 Z" fill="#fff" stroke="#c9cdd0" stroke-width="1"/>
<circle cx="285.8" cy="528.5" r="3.8" fill="url(#gGr)"/><path d="M285.7,526.5 a1.7,1.7 0 0 1 1.9,2.2" stroke="#fff" stroke-width="0.9" fill="none"/><circle cx="288.2" cy="528.7" r="0.6" fill="#777"/>
<text class="lh" x="403.2" y="489.7">Цервикальная жидкость</text>
<text class="lg" x="423" y="504.0">сухо</text>
<text class="lg" x="423" y="518.0">клейкая</text>
<text class="lg" x="423" y="531.9">кремообразная</text>
<text class="lg" x="423" y="545.9">водянистая</text>
<text class="lg" x="423" y="559.8">яичный белок</text>
<path d="M412.2,498.4 L418.8,505.2 M418.8,498.4 L412.2,505.2" stroke="#9a9a9a" stroke-width="0.8" fill="none"/>
<path d="M412.2,513.2 H418.6 M412.4,518.8 H418.4 M415.4,513.2 V518.8" stroke="#9a9a9a" stroke-width="1" fill="none"/><path d="M413.6,513.4 Q415.4,514.6 415.4,516 Q415.4,514.6 417.2,513.4Z M413.6,518.6 Q415.4,517.6 415.4,516 Q415.4,517.6 417.2,518.6Z" fill="#9a9a9a"/>
<path d="M411,528.8 C411,526.2 413.4,525.2 415.2,525.4 C417.8,525.6 419.2,527.6 419,530 C418.8,532.4 417.4,533.8 415.8,534.4 C416.6,533 416.8,531.6 416,530.8 C414.6,531.6 411,531.6 411,528.8Z" fill="#9a9a9a"/>
<path d="M415.5,539.2 C416.2,541 418,542.4 418,544.2 A2.5,2.5 0 0 1 413,544.2 C413,542.4 414.8,541 415.5,539.2Z" fill="#9a9a9a"/>
<path d="M415.4,552 C417.6,553.6 418.9,556 418.9,558.2 A3.5,3.6 0 0 1 411.9,558.2 C411.9,556 413.2,553.6 415.4,552Z" fill="#9a9a9a"/>
<text class="lg" x="534.8" y="504.0">половой акт</text>
<text class="lg" x="534.8" y="518.0">прием лекарств</text>
<text class="lg" x="534.8" y="532.0">лунный календарь</text>
<use href="#heart" x="524.5" y="500.8"/><use href="#pill" x="525.1" y="514.3"/>
<path d="M527.4,524.3 A5.2,5.2 0 1 0 527.4,533.7 A5.6,5.6 0 0 1 527.4,524.3Z" fill="url(#gMoon)"/>
</svg></body></html>
